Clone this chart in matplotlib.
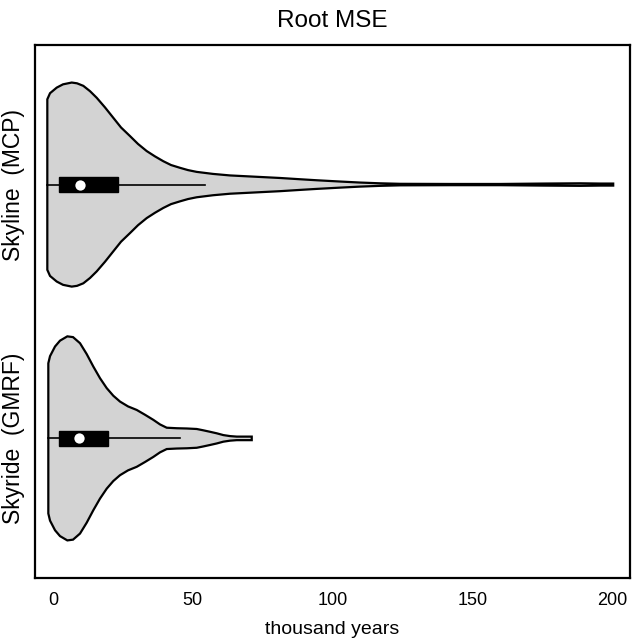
import matplotlib
matplotlib.use("Agg")
import matplotlib.pyplot as plt
from matplotlib.patches import Rectangle

plt.rcParams["font.family"] = ["Liberation Sans", "DejaVu Sans"]

# group labels and their positions on the vertical axis
labels = ["Skyride  (GMRF)", "Skyline  (MCP)"]
positions = [1, 2]

# violin outlines: value (thousand years) -> half width
skyride_x = [-1.68, -1.07, 0.72, 2.5, 5.12, 7.16, 9.66, 12.06, 14.42, 16.82,
             19.21, 21.57, 23.97, 26.83, 29.95, 32.92, 35.89, 38.28, 40.68,
             44.26, 47.84, 51.41, 53.67, 56.17, 58.57, 60.93, 63.33, 65.72,
             71.09]
skyride_w = [0.296, 0.324, 0.362, 0.385, 0.402, 0.399, 0.375, 0.332, 0.283,
             0.237, 0.198, 0.168, 0.145, 0.126, 0.112, 0.093, 0.073, 0.055,
             0.042, 0.040, 0.039, 0.037, 0.032, 0.026, 0.020, 0.013, 0.009,
             0.007, 0.007]

skyline_x = [-2.04, -1.07, 1.32, 3.58, 6.69, 8.59, 10.84, 13.24, 15.63, 18.6,
             21.57, 24.33, 27.55, 30.41, 33.52, 36.49, 39.46, 42.22, 45.44,
             48.3, 51.41, 57.25, 63.33, 70.48, 75.85, 81.22, 88.37, 94.35,
             102.7, 109.8, 117.0, 124.2, 142.0, 159.9, 175.3, 188.6, 195.7,
             200.4]
skyline_w = [0.336, 0.360, 0.382, 0.395, 0.402, 0.399, 0.389, 0.368, 0.342,
             0.304, 0.263, 0.225, 0.191, 0.160, 0.132, 0.111, 0.092, 0.077,
             0.066, 0.057, 0.050, 0.042, 0.036, 0.032, 0.029, 0.026, 0.021,
             0.017, 0.012, 0.008, 0.005, 0.003, 0.0024, 0.0024, 0.004, 0.005,
             0.004, 0.004]

# box summaries: lower whisker, q1, median, q3, upper whisker
skyride_box = [-1.7, 2.1, 9.4, 19.8, 45.4]
skyline_box = [-2.0, 2.1, 9.7, 23.4, 54.4]

violins = [(skyride_x, skyride_w, skyride_box),
           (skyline_x, skyline_w, skyline_box)]

fig = plt.figure(figsize=(6.32, 6.39), dpi=100)
ax = fig.add_axes([0.0554, 0.0955, 0.9414, 0.8341])

box_half = 0.029
for pos, (xs, ws, box) in zip(positions, violins):
    lo = [pos - w for w in ws]
    hi = [pos + w for w in ws]
    ax.fill(xs + xs[::-1], hi + lo[::-1], facecolor="#d3d3d3",
            edgecolor="black", linewidth=1.6, zorder=2)
    ax.plot([box[0], box[4]], [pos, pos], color="black", lw=1.2, zorder=3)
    ax.add_patch(Rectangle((box[1], pos - box_half), box[3] - box[1],
                           2 * box_half, facecolor="black",
                           edgecolor="black", zorder=4))
    ax.scatter([box[2]], [pos], s=55, color="white", zorder=5, linewidths=0)

ax.set_xlim(-6.44, 206.4)
ax.set_ylim(0.45, 2.55)
ax.set_xticks([0, 50, 100, 150, 200])
ax.set_yticks(positions)
ax.set_yticklabels(labels, rotation=90, va="center")
ax.tick_params(axis="x", length=0, labelsize=13, pad=10)
ax.tick_params(axis="y", length=0, labelsize=16.5, pad=7)
for side in ax.spines.values():
    side.set_linewidth(1.6)

ax.set_title("Root MSE", fontsize=17.5, pad=13)
ax.set_xlabel("thousand years", fontsize=14, labelpad=9)

fig.savefig("out.png", dpi=100)
